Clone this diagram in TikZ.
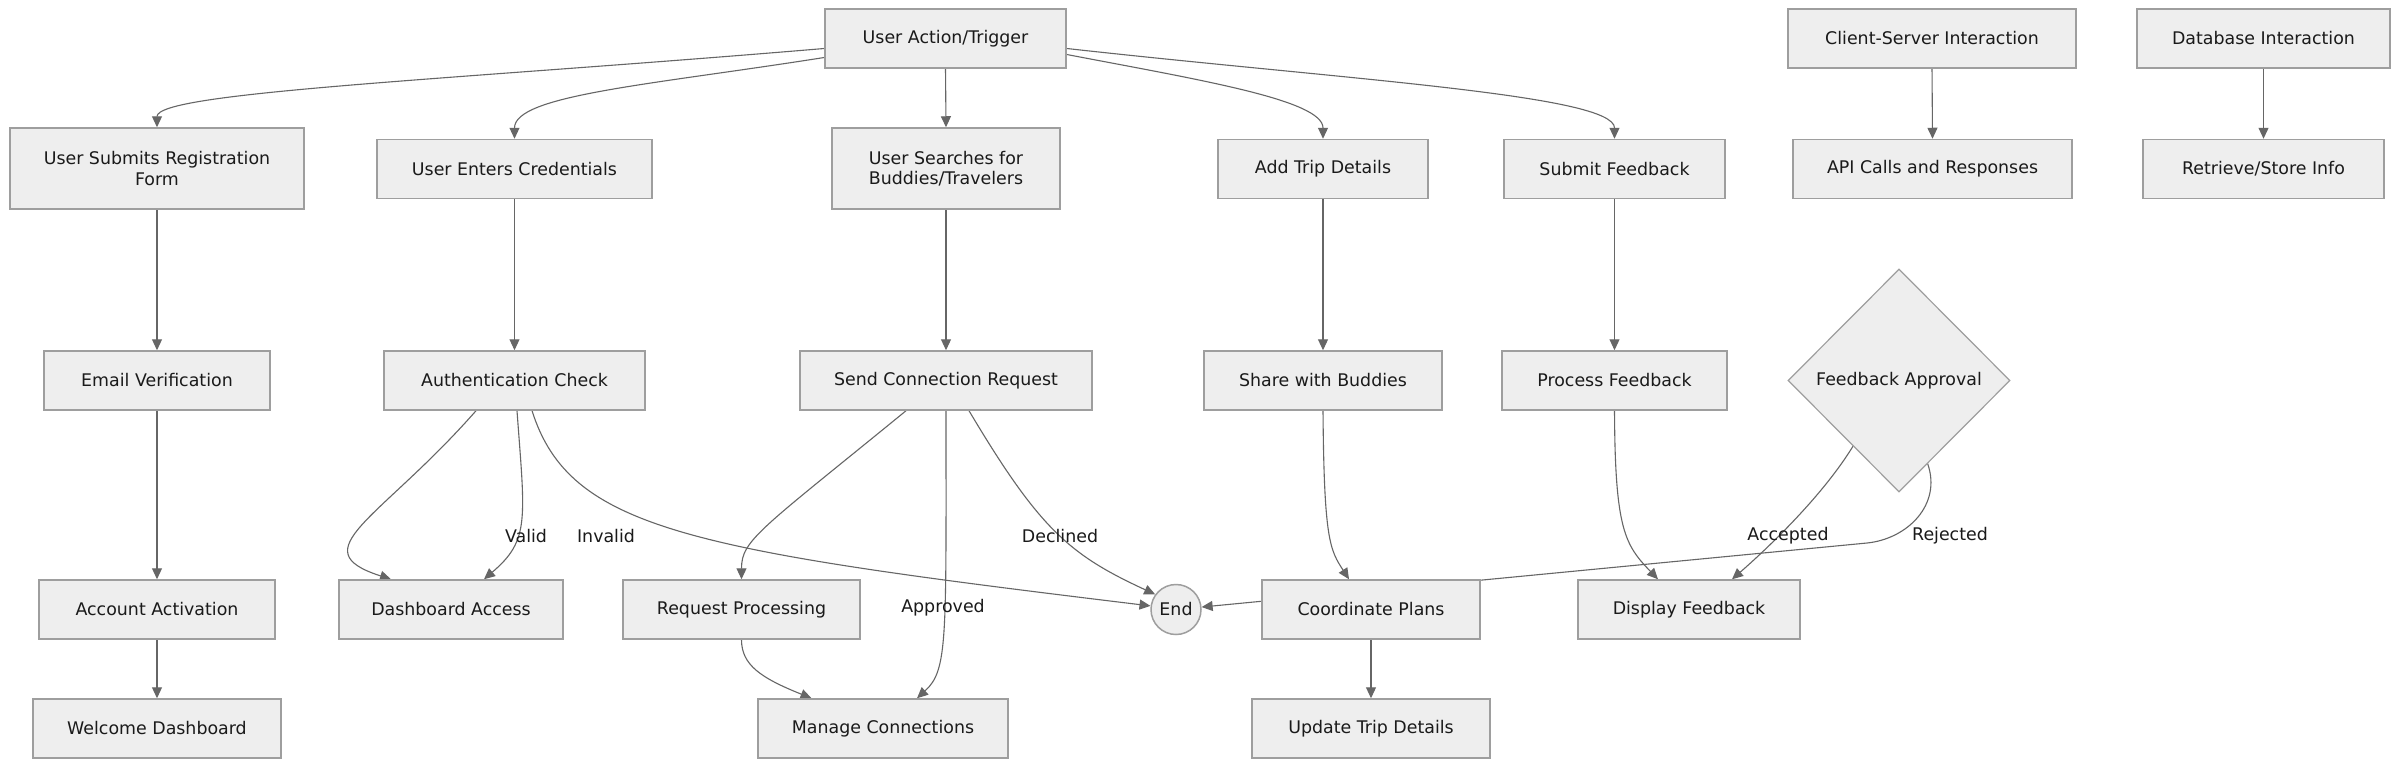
\documentclass[tikz,border=0pt]{standalone}
\usepackage{fontspec}
\setmainfont{DejaVu Sans}
\usetikzlibrary{arrows.meta,shapes.geometric,calc}
\pgfdeclarelayer{paper}
\pgfdeclarelayer{bg}
\pgfsetlayers{paper,bg,main}
\definecolor{nodefill}{HTML}{EEEEEE}
\definecolor{nodeline}{HTML}{9E9E9E}
\definecolor{edgecol}{HTML}{666666}
\definecolor{txt}{HTML}{1A1A1A}
\begin{document}
\begin{tikzpicture}[x=1pt,y=-1pt,
  box/.style={draw=nodeline, fill=nodefill, line width=1.5pt, minimum height=59pt, inner sep=0pt,
    font=\fontsize{17.4}{20.5}\selectfont, align=center, text=txt},
  edge/.style={draw=edgecol, line width=1.1pt, -{Triangle[length=11pt,width=10pt]}},
  lbl/.style={font=\fontsize{17.4}{20.5}\selectfont, inner sep=0pt, text=txt}]
\begin{pgfonlayer}{paper}
\fill[white] (0,0) rectangle (2400,768);
\end{pgfonlayer}
\useasboundingbox (0,0) rectangle (2400,768);

% row 1
\node[box, minimum width=241pt] (ua) at (945.5,38.5) {User Action/Trigger};
\node[box, minimum width=288pt] (cs) at (1932,38.5) {Client-Server Interaction};
\node[box, minimum width=253pt] (db) at (2263.5,38.5) {Database Interaction};
% row 2
\node[box, minimum width=294pt, minimum height=81pt] (reg) at (157,168.5) {User Submits Registration\\Form};
\node[box, minimum width=275pt] (cred) at (514.5,169) {User Enters Credentials};
\node[box, minimum width=228pt, minimum height=81pt] (search) at (946,168.5) {User Searches for\\Buddies/Travelers};
\node[box, minimum width=210pt] (trip) at (1323,169) {Add Trip Details};
\node[box, minimum width=221pt] (subfb) at (1614.5,169) {Submit Feedback};
\node[box, minimum width=279pt] (api) at (1932.5,169) {API Calls and Responses};
\node[box, minimum width=241pt] (store) at (2263.5,169) {Retrieve/Store Info};
% row 3
\node[box, minimum width=226pt] (email) at (157,380.5) {Email Verification};
\node[box, minimum width=261pt] (auth) at (514.5,380.5) {Authentication Check};
\node[box, minimum width=292pt] (send) at (946,380.5) {Send Connection Request};
\node[box, minimum width=238pt] (share) at (1323,380.5) {Share with Buddies};
\node[box, minimum width=225pt] (procfb) at (1614.5,380.5) {Process Feedback};
\node[diamond, aspect=1, draw=nodeline, fill=nodefill, line width=1.2pt, minimum width=222pt,
  minimum height=223pt, inner sep=0pt, font=\fontsize{17.4}{20.5}\selectfont, text=txt] (fa) at (1899,380.5) {Feedback Approval};
% row 4
\node[box, minimum width=236pt] (act) at (157,609.5) {Account Activation};
\node[box, minimum width=224pt] (dash) at (451,609.5) {Dashboard Access};
\node[box, minimum width=237pt] (reqp) at (741.5,609.5) {Request Processing};
\node[circle, draw=nodeline, fill=nodefill, line width=1.5pt, minimum size=50pt, inner sep=0pt,
  font=\fontsize{17.4}{20.5}\selectfont, text=txt] (end) at (1176,609.5) {End};
\node[box, minimum width=218pt] (coord) at (1371,609.5) {Coordinate Plans};
\node[box, minimum width=222pt] (disp) at (1689,609.5) {Display Feedback};
% row 5
\node[box, minimum width=248pt] (welcome) at (157,728.5) {Welcome Dashboard};
\node[box, minimum width=250pt] (manage) at (883,728.5) {Manage Connections};
\node[box, minimum width=238pt] (update) at (1371,728.5) {Update Trip Details};

\begin{pgfonlayer}{bg}
% from trigger
\draw[edge] ($(ua.west)+(0,10)$) .. controls (450,80) and (157,92) .. (reg.north);
\draw[edge] ($(ua.west)+(0,19)$) .. controls (650,85) and (514.5,95) .. (cred.north);
\draw[edge] (ua.south) -- (search.north);
\draw[edge] ($(ua.east)+(0,16)$) .. controls (1200,80) and (1323,100) .. (trip.north);
\draw[edge] ($(ua.east)+(0,10)$) .. controls (1350,80) and (1614.5,95) .. (subfb.north);
\draw[edge] (cs.south) -- (api.north);
\draw[edge] (db.south) -- (store.north);
% verticals
\draw[edge] (reg.south) -- (email.north);
\draw[edge] (cred.south) -- (auth.north);
\draw[edge] (search.south) -- (send.north);
\draw[edge] (trip.south) -- (share.north);
\draw[edge] (subfb.south) -- (procfb.north);
\draw[edge] (email.south) -- (act.north);
\draw[edge] (act.south) -- (welcome.north);
\draw[edge] (coord.south) -- (update.north);
% authentication
\draw[edge] ($(auth.south)+(-38.5,0)$) .. controls (380,520) and (300,550) .. ($(dash.north)+(-60,0)$);
\draw[edge] ($(auth.south)+(2.5,0)$) .. controls (525,520) and (530,540) .. ($(dash.north)+(33,0)$);
\draw[edge] ($(auth.south)+(17.5,0)$) .. controls (570,530) and (690,550) .. (end.172);
% connection request
\draw[edge] ($(send.south)+(-40,0)$) .. controls (760,530) and (741.5,540) .. (reqp.north);
\draw[edge] (send.south) .. controls (946,640) and (948,670) .. ($(manage.north)+(34,0)$);
\draw[edge] ($(send.south)+(23,0)$) .. controls (1040,530) and (1070,555) .. (end.144);
\draw[edge] (reqp.south) .. controls (741.5,665) and (761,678) .. ($(manage.north)+(-71.5,0)$);
% trips and feedback
\draw[edge] (share.south) .. controls (1324,540) and (1330,550) .. ($(coord.north)+(-22,0)$);
\draw[edge] (procfb.south) .. controls (1615,530) and (1625,545) .. ($(disp.north)+(-31,0)$);
\draw[edge] (fa.235) .. controls (1820,500) and (1760,555) .. ($(disp.north)+(43,0)$);
\coordinate (rj) at (1867,543);
\draw[edge] (fa.289) .. controls (1942,505) and (1907,539) .. (rj) -- (end);
\end{pgfonlayer}

% edge labels
\node[lbl] (lvalid) at (526,536) {Valid};
\node[lbl] (linvalid) at (606,536) {Invalid};
\node[lbl] (ldeclined) at (1060,536) {Declined};
\node[lbl] (lapproved) at (943,608) {Approved};
\node[lbl] (laccepted) at (1788,536) {Accepted};
\node[lbl] (lrejected) at (1950,536) {Rejected};
\end{tikzpicture}
\end{document}
